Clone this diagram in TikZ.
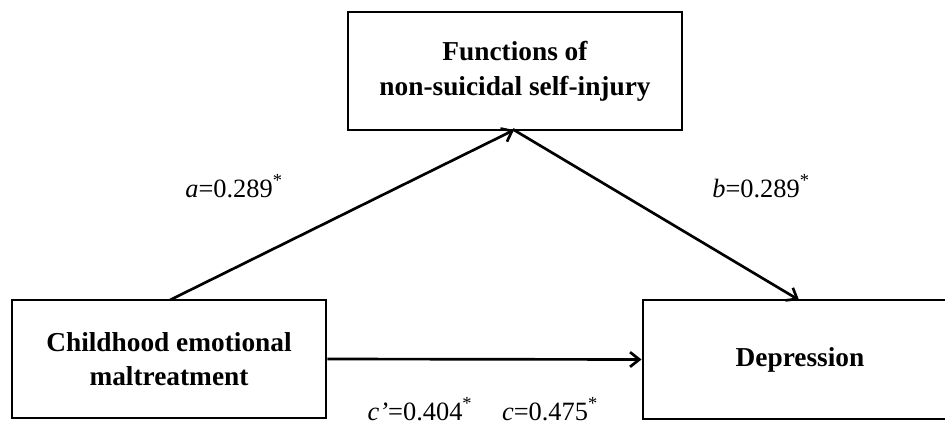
\documentclass[tikz,border=0pt]{standalone}
\usepackage{fontspec}
\setmainfont{Liberation Serif}
\usetikzlibrary{arrows.meta}

\tikzset{
  varbox/.style={draw, line width=2.2pt, inner sep=0pt, align=center,
    font=\bfseries\fontsize{20.5}{26}\selectfont},
  path/.style={line width=2pt, -{Straight Barb[length=7pt,width=11pt,line width=2pt]}},
  coef/.style={font=\fontsize{19.8}{22}\selectfont, inner sep=0pt, anchor=base}
}

\begin{document}
\begin{tikzpicture}[x=0.75pt,y=-0.75pt]
  % Fix the page to the reference size
  \useasboundingbox (0,0) rectangle (945,424);
  \clip (0,0) rectangle (945,424);

  % Define the three variables
  \node[varbox, minimum width=334*0.75pt, minimum height=118*0.75pt] (M) at (515,71)
    {Functions of\\non-suicidal self-injury};
  \node[varbox, minimum width=314*0.75pt, minimum height=118*0.75pt] (X) at (169,359)
    {Childhood emotional\\maltreatment};
  \node[varbox, minimum width=314*0.75pt, minimum height=119*0.75pt] (Y) at (800,359.5)
    {Depression};

  % Apex where the two paths meet the mediator
  \coordinate (apex) at (514,130);
  \coordinate (xtop) at (170,300);
  \coordinate (ytop) at (799,300);

  % Draw the paths
  \draw[path] (xtop) -- (apex);
  \draw[path, shorten <=-1pt] (apex) -- (ytop);
  \draw[path] (X.east) -- (Y.west);

  % Path coefficients
  \node[coef] (a) at (234,197) {\textit{a}=0.289\textsuperscript{*}};
  \node[coef] (b) at (761,197) {\textit{b}=0.289\textsuperscript{*}};
  \node[coef] (cp) at (420,420) {\textit{c'}=0.404\textsuperscript{*}};
  \node[coef] (c) at (550,420) {\textit{c}=0.475\textsuperscript{*}};
\end{tikzpicture}
\end{document}
